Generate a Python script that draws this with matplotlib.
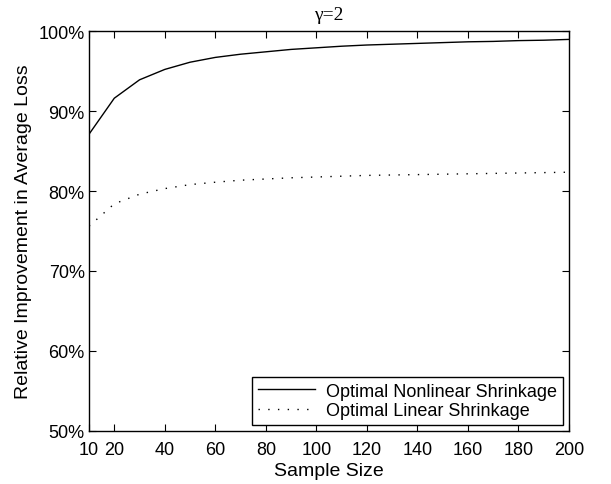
import matplotlib
matplotlib.use("Agg")
from matplotlib import pyplot as plt
from matplotlib.ticker import FuncFormatter

sample_size = [10, 20, 30, 40, 50, 60, 70, 80, 90, 100, 110, 120, 130, 140, 150, 160, 170, 180, 190, 200]
nonlinear = [87.1, 91.6, 93.9, 95.2, 96.1, 96.7, 97.1, 97.4, 97.7, 97.9,
             98.1, 98.25, 98.35, 98.45, 98.55, 98.65, 98.7, 98.8, 98.85, 98.95]
linear = [75.6, 78.4, 79.6, 80.3, 80.8, 81.1, 81.35, 81.5, 81.65, 81.75,
          81.85, 81.95, 82.0, 82.05, 82.1, 82.15, 82.2, 82.25, 82.3, 82.35]

plt.rcParams['font.family'] = ['Liberation Sans', 'DejaVu Sans']

fig = plt.figure(figsize=(6.11, 4.85), dpi=100)
ax = fig.add_axes([0.1457, 0.1093, 0.7856, 0.8247])

ax.plot(sample_size, nonlinear, color='black', linewidth=1.0, label='Optimal Nonlinear Shrinkage')
ax.plot(sample_size, linear, color='black', linewidth=1.0, linestyle=(0, (1, 6)),
        label='Optimal Linear Shrinkage')

ax.set_xlim(10, 200)
ax.set_ylim(50, 100)
ax.set_xticks([10, 20, 40, 60, 80, 100, 120, 140, 160, 180, 200])
ax.set_yticks([50, 60, 70, 80, 90, 100])
ax.yaxis.set_major_formatter(FuncFormatter(lambda v, p: '%d%%' % v))
ax.tick_params(direction='in', top=True, right=True, length=5, labelsize=13)
ax.tick_params(axis='x', pad=7)
ax.tick_params(axis='y', pad=3)
for s in ax.spines.values():
    s.set_linewidth(1.0)

ax.set_xlabel('Sample Size', fontsize=14, labelpad=3)
ax.set_ylabel('Relative Improvement in Average Loss', fontsize=14, labelpad=5)
ax.set_title('γ=2', fontsize=14, family=['Liberation Serif', 'DejaVu Serif'], pad=9)

leg = ax.legend(loc='lower right', fontsize=13, fancybox=False, edgecolor='black',
                framealpha=1, handlelength=3.2, borderaxespad=0.35,
                borderpad=0.3, labelspacing=0.15, handletextpad=0.6)
leg.get_frame().set_linewidth(1.0)

fig.savefig('out.png', dpi=100)
